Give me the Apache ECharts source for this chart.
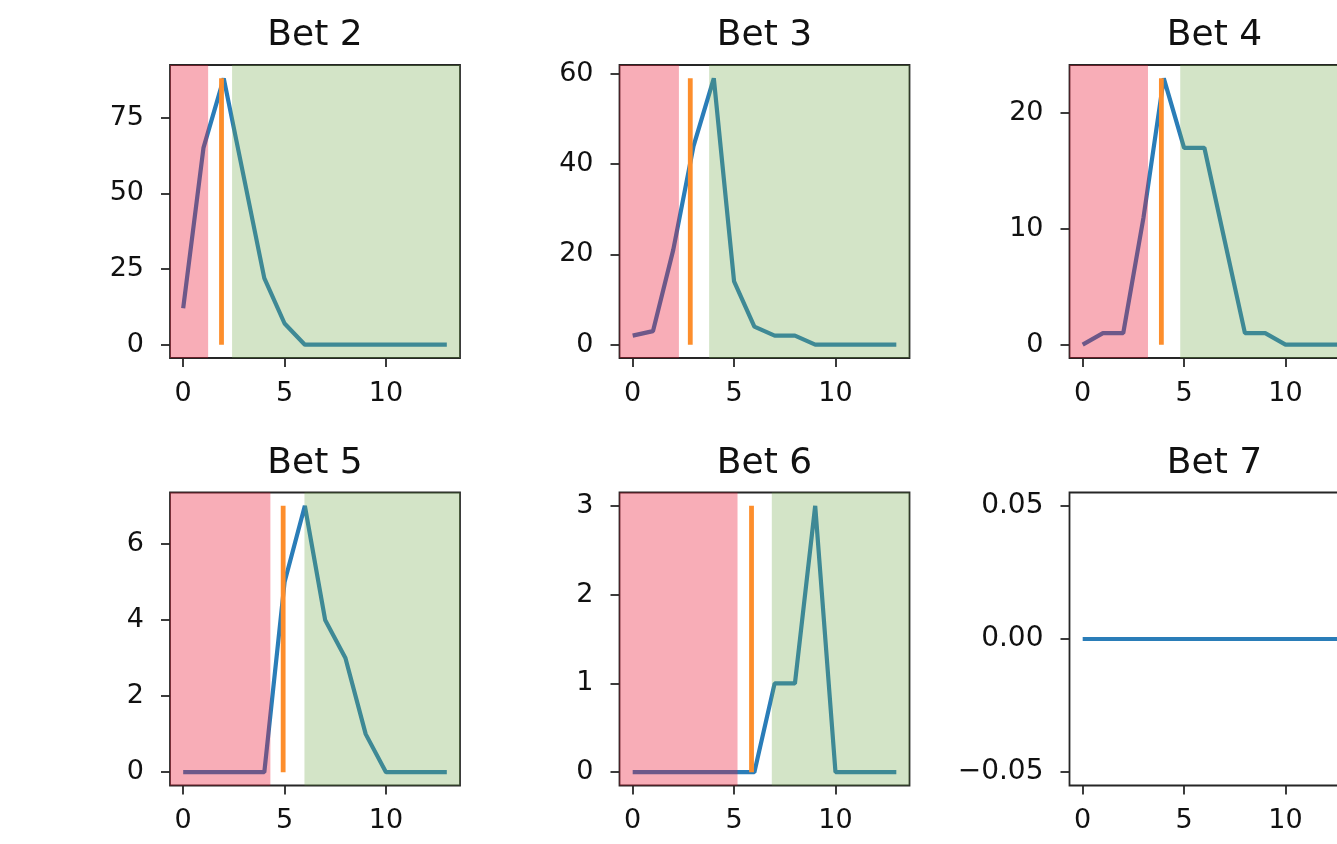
<!DOCTYPE html>
<html>
<head>
<meta charset="utf-8">
<script src="https://cdn.jsdelivr.net/npm/echarts@6/dist/echarts.min.js"></script>
<style>
html,body{margin:0;padding:0;background:#fff;overflow:hidden;width:1337px;height:844px;}
#c{width:1400px;height:844px;}
</style>
</head>
<body>
<div id="c"></div>
<script>
// ---- data ----
const xValues = [0,1,2,3,4,5,6,7,8,9,10,11,12,13];
const betNames = ['Bet 2','Bet 3','Bet 4','Bet 5','Bet 6','Bet 7'];
const bet2 = [12,65,88,55,22,7,0,0,0,0,0,0,0,0];
const bet3 = [2,3,21,44,59,14,4,2,2,0,0,0,0,0];
const bet4 = [0,1,1,11,23,17,17,9,1,1,0,0,0,0];
const bet5 = [0,0,0,0,0,5,7,4,3,1,0,0,0,0];
const bet6 = [0,0,0,0,0,0,0,1,1,3,0,0,0,0];
const bet7 = [0,0,0,0,0,0,0,0,0,0,0,0,0,0];
const markerX   = [1.89, 2.84, 3.88, 4.93, 5.86, null];
const redEnd    = [1.23, 2.28, 3.22, 4.30, 5.17, null];
const greenStart= [2.41, 3.77, 4.81, 5.98, 6.86, null];
const xTickLabels = [0,5,10];
const yTickLabels = [[0,25,50,75],[0,20,40,60],[0,10,20],[0,2,4,6],[0,1,2,3],[-0.05,0,0.05]];
const betSeries = [bet2,bet3,bet4,bet5,bet6,bet7];

// ---- layout ----
const gridLefts = [170, 619.5, 1069.5];
const gridTops = [65, 492.5];
const gridW = 290, gridH = 293;
const FONT = 'DejaVu Sans';
const TXT = '#111';
const AX = '#262626';

function margins(vals){
  let mn = Math.min(...vals), mx = Math.max(...vals);
  if (mx === mn) { mn -= 0.05; mx += 0.05; }
  const r = mx - mn;
  return [mn - 0.05*r, mx + 0.05*r];
}
const xr = margins(xValues);

const grids=[], xAxes=[], yAxes=[], series=[], titles=[];
betSeries.forEach((vals,i)=>{
  const row = Math.floor(i/3), col = i%3;
  const left = gridLefts[col], top = gridTops[row];
  grids.push({left:left, top:top, width:gridW, height:gridH, show:true,
    borderColor:AX, borderWidth:1.8, backgroundColor:'transparent', containLabel:false});
  titles.push({text:betNames[i], left:left+gridW/2, top:top-47, textAlign:'center', padding:0,
    textStyle:{fontFamily:FONT, fontSize:36, fontWeight:'normal', color:TXT, lineHeight:36}});
  xAxes.push({type:'value', gridIndex:i, min:xr[0], max:xr[1], position:'bottom',
    axisLine:{show:false, onZero:false}, splitLine:{show:false},
    axisTick:{show:true, inside:false, length:9, customValues:xTickLabels, lineStyle:{color:AX, width:1.8}},
    axisLabel:{customValues:xTickLabels, margin:22, fontFamily:FONT, fontSize:27, color:TXT}});
  const yr = margins(vals);
  const isSmall = i===5;
  yAxes.push({type:'value', gridIndex:i, min:yr[0], max:yr[1], position:'left',
    axisLine:{show:false, onZero:false}, splitLine:{show:false},
    axisTick:{show:true, inside:false, length:9, customValues:yTickLabels[i], lineStyle:{color:AX, width:1.8}},
    axisLabel:{customValues:yTickLabels[i], margin:26, fontFamily:FONT, fontSize:isSmall?28:27, color:TXT,
      formatter: v => isSmall ? (v<0?'\u2212':'')+Math.abs(v).toFixed(2) : String(v)}});
  const lineSeries = {type:'line', xAxisIndex:i, yAxisIndex:i, showSymbol:false, symbol:'none',
    data: xValues.map((x,k)=>[x, vals[k]]), z:2,
    lineStyle:{color:'#2a7db8', width:4.2}, itemStyle:{color:'#2a7db8'}, animation:false, silent:true};
  if (markerX[i] !== null) {
    lineSeries.markArea = {silent:true, z:3,
      data:[
        [{xAxis:xr[0], itemStyle:{color:'rgba(235,21,49,0.35)'}}, {xAxis:redEnd[i]}],
        [{xAxis:greenStart[i], itemStyle:{color:'rgba(108,165,68,0.30)'}}, {xAxis:xr[1]}]
      ]};
  }
  series.push(lineSeries);
  if (markerX[i] !== null) {
    const peak = Math.max(...vals);
    series.push({type:'line', xAxisIndex:i, yAxisIndex:i, showSymbol:false, symbol:'none',
      data:[[markerX[i],0],[markerX[i],peak]], z:4,
      lineStyle:{color:'#fd8e2c', width:4.8}, animation:false, silent:true});
  }
});

const chart = echarts.init(document.getElementById('c'), null, {renderer:'canvas'});
chart.setOption({animation:false, backgroundColor:'#fff', title:titles, grid:grids, xAxis:xAxes, yAxis:yAxes, series:series});
</script>
</body>
</html>
